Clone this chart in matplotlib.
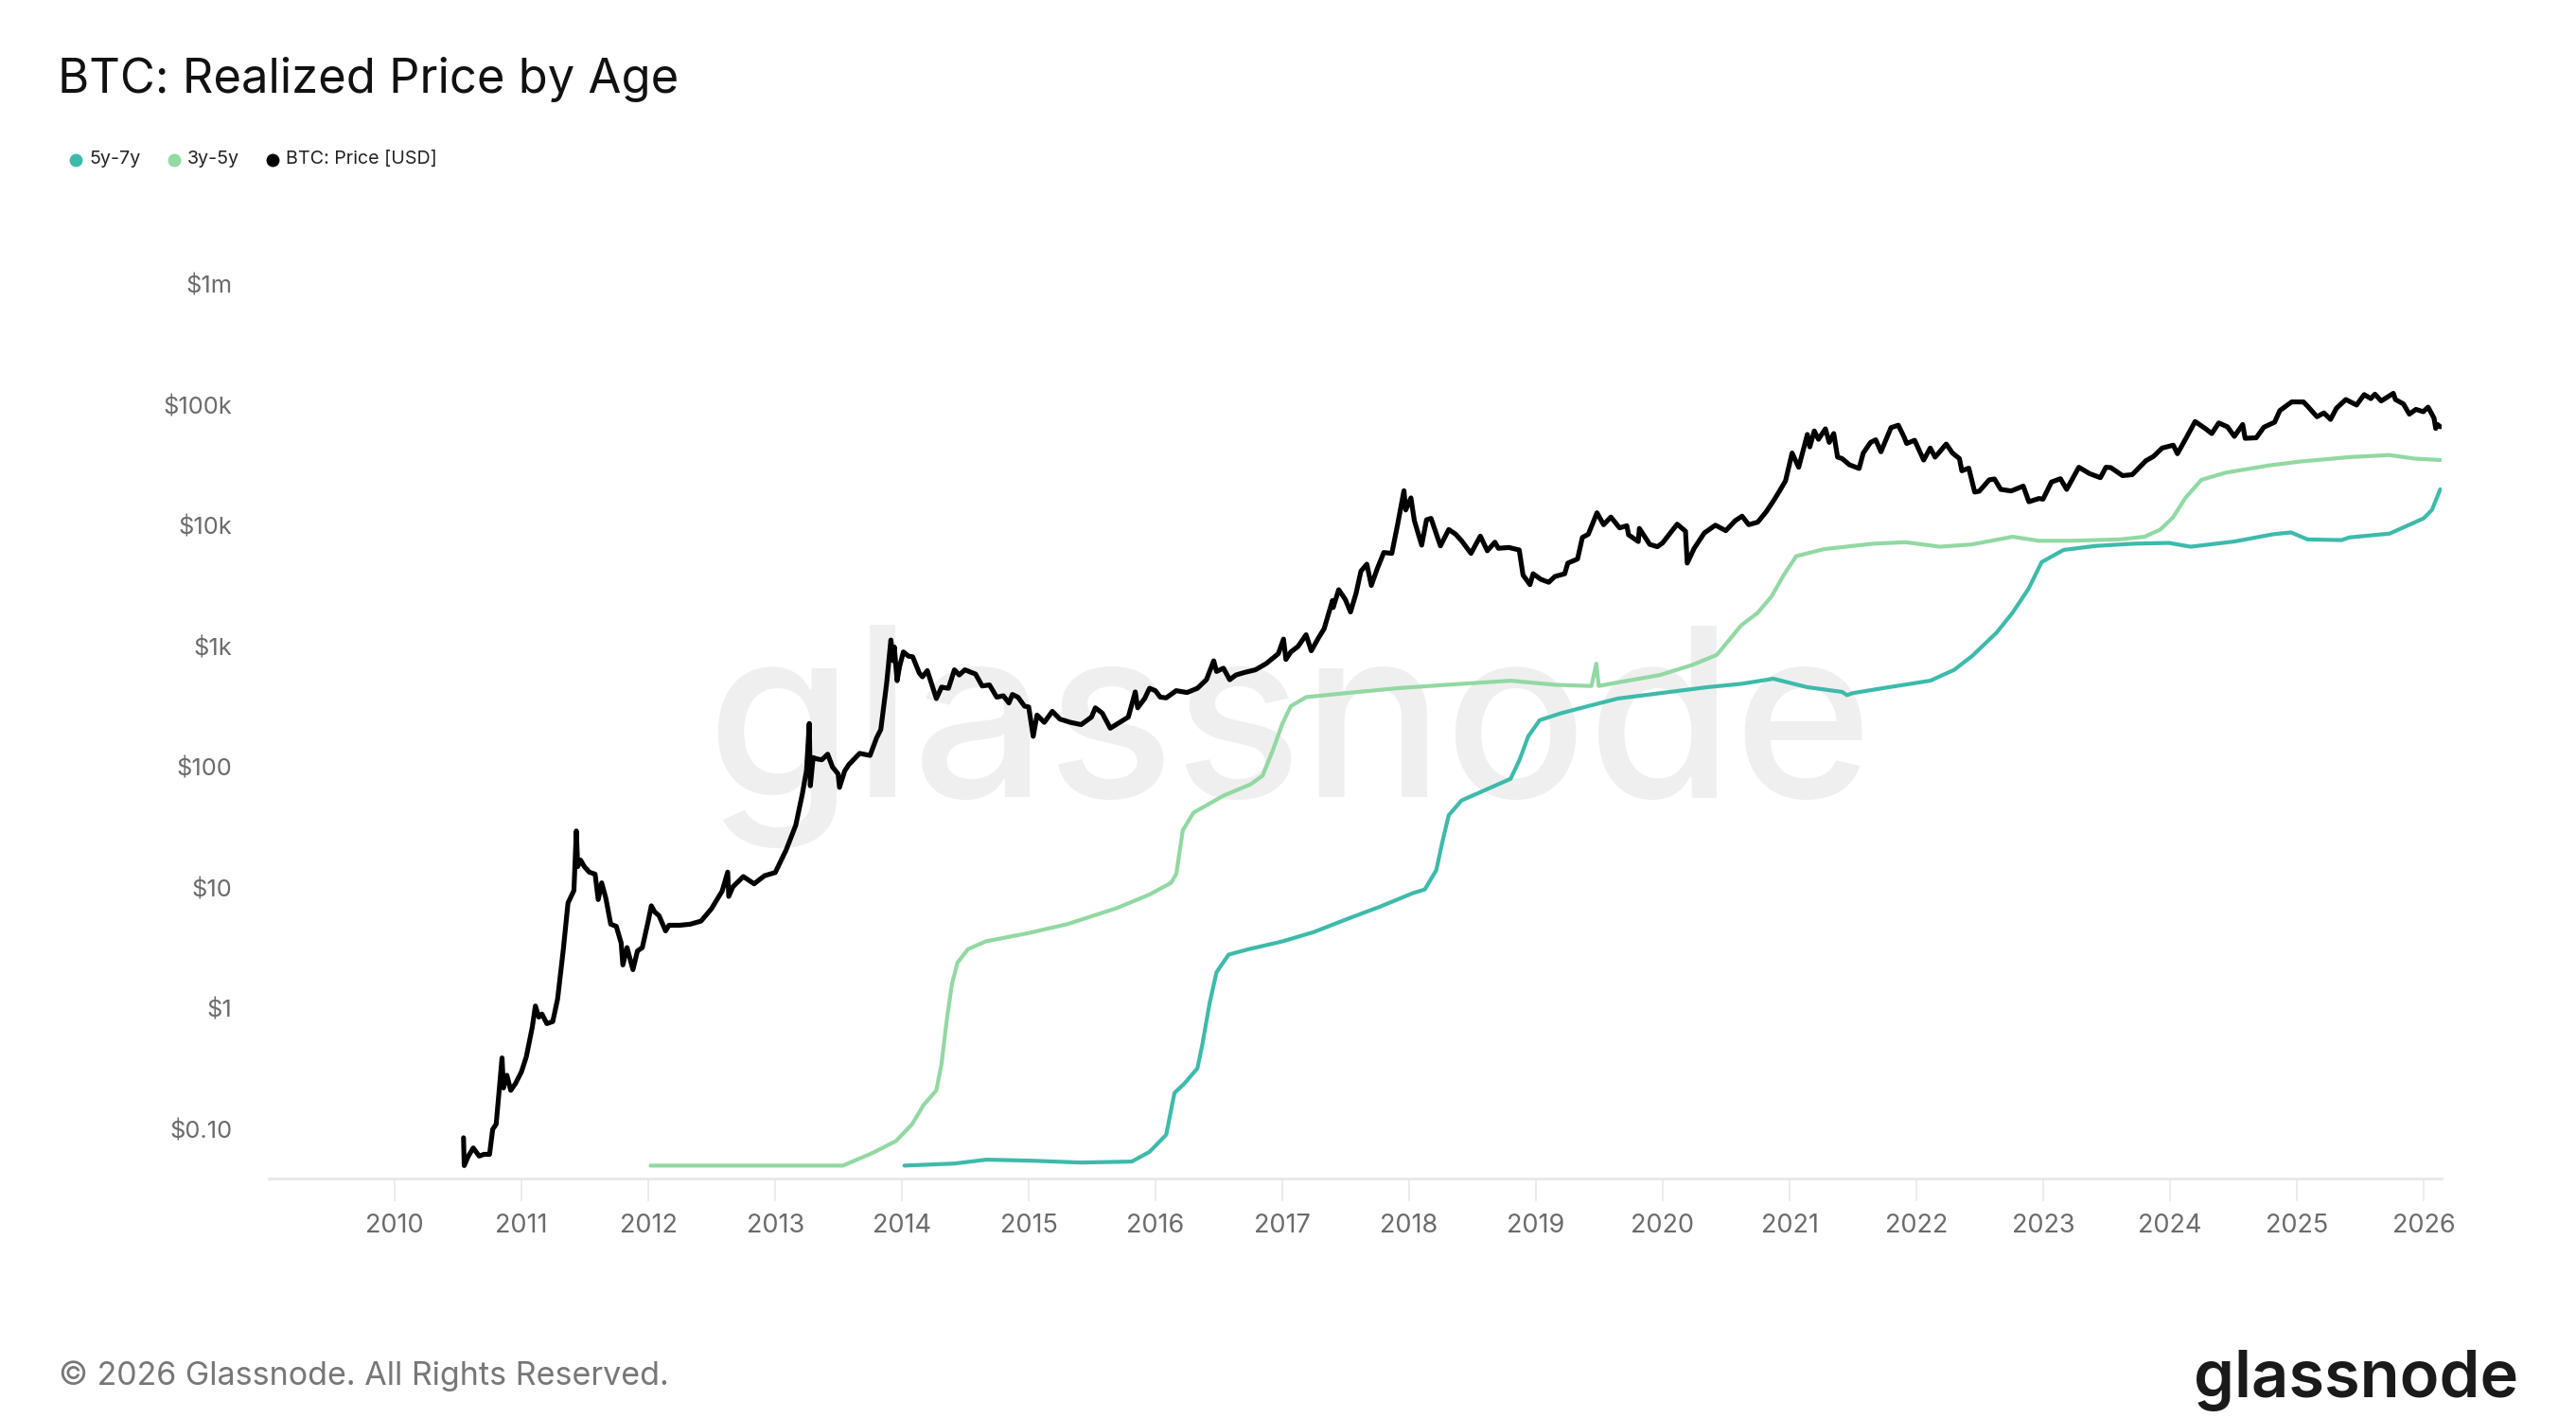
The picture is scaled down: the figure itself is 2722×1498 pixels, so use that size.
import matplotlib
matplotlib.use("Agg")
import matplotlib.pyplot as plt
from matplotlib.lines import Line2D
import pandas as pd
import datetime as dt

plt.rcParams['font.family'] = ['Inter', 'DejaVu Sans']

# ---------------- data ----------------
btc_dates = [
    "2010-07-18", "2010-07-20", "2010-08-01", "2010-08-15", "2010-09-01", "2010-09-15", "2010-10-01",
    "2010-10-10", "2010-10-20", "2010-11-06", "2010-11-10", "2010-11-20", "2010-12-01", "2010-12-15",
    "2011-01-01", "2011-01-15", "2011-02-01", "2011-02-10", "2011-02-20", "2011-03-01", "2011-03-15",
    "2011-04-01", "2011-04-15", "2011-05-01", "2011-05-15", "2011-06-01", "2011-06-08", "2011-06-12",
    "2011-06-20", "2011-07-01", "2011-07-15", "2011-08-01", "2011-08-10", "2011-08-20", "2011-09-01",
    "2011-09-15", "2011-10-01", "2011-10-15", "2011-10-20", "2011-11-01", "2011-11-18", "2011-12-01",
    "2011-12-15", "2012-01-01", "2012-01-10", "2012-01-20", "2012-02-01", "2012-02-20", "2012-03-01",
    "2012-04-01", "2012-05-01", "2012-06-01", "2012-07-01", "2012-08-01", "2012-08-17", "2012-08-20",
    "2012-09-01", "2012-10-01", "2012-11-01", "2012-12-01", "2013-01-01", "2013-02-01", "2013-03-01",
    "2013-03-20", "2013-04-01", "2013-04-09", "2013-04-12", "2013-04-20", "2013-05-01", "2013-05-15",
    "2013-06-01", "2013-06-15", "2013-07-01", "2013-07-05", "2013-07-20", "2013-08-01", "2013-09-01",
    "2013-10-01", "2013-10-20", "2013-11-01", "2013-11-18", "2013-11-30", "2013-12-07", "2013-12-10",
    "2013-12-18", "2013-12-25", "2014-01-05", "2014-01-20", "2014-02-01", "2014-02-20", "2014-03-01",
    "2014-03-15", "2014-04-10", "2014-04-25", "2014-05-15", "2014-06-01", "2014-06-15", "2014-07-01",
    "2014-08-01", "2014-08-20", "2014-09-10", "2014-10-01", "2014-10-20", "2014-11-05", "2014-11-15",
    "2014-12-01", "2014-12-20", "2015-01-01", "2015-01-14", "2015-01-25", "2015-02-15", "2015-03-10",
    "2015-04-01", "2015-05-01", "2015-06-01", "2015-07-01", "2015-07-12", "2015-08-01", "2015-08-24",
    "2015-09-15", "2015-10-15", "2015-11-04", "2015-11-11", "2015-12-01", "2015-12-15", "2016-01-01",
    "2016-01-15", "2016-02-01", "2016-03-01", "2016-04-01", "2016-05-01", "2016-05-27", "2016-06-17",
    "2016-06-25", "2016-07-15", "2016-08-02", "2016-08-20", "2016-09-15", "2016-10-15", "2016-11-15",
    "2016-12-20", "2017-01-04", "2017-01-11", "2017-01-25", "2017-02-15", "2017-03-10", "2017-03-25",
    "2017-04-15", "2017-05-01", "2017-05-25", "2017-05-27", "2017-06-12", "2017-07-01", "2017-07-16",
    "2017-08-01", "2017-08-15", "2017-09-01", "2017-09-14", "2017-10-01", "2017-10-20", "2017-11-12",
    "2017-11-28", "2017-12-17", "2017-12-22", "2018-01-06", "2018-01-16", "2018-02-06", "2018-02-20",
    "2018-03-05", "2018-04-01", "2018-04-25", "2018-05-15", "2018-06-01", "2018-06-28", "2018-07-25",
    "2018-08-14", "2018-09-05", "2018-09-15", "2018-10-15", "2018-11-14", "2018-11-25", "2018-12-15",
    "2018-12-24", "2019-01-15", "2019-02-07", "2019-02-25", "2019-03-25", "2019-04-03", "2019-05-01",
    "2019-05-15", "2019-06-01", "2019-06-26", "2019-07-15", "2019-08-05", "2019-08-30", "2019-09-20",
    "2019-09-25", "2019-10-23", "2019-10-26", "2019-11-25", "2019-12-17", "2020-01-01", "2020-02-12",
    "2020-03-07", "2020-03-12", "2020-04-01", "2020-04-30", "2020-06-01", "2020-07-01", "2020-07-28",
    "2020-08-17", "2020-09-05", "2020-10-01", "2020-10-25", "2020-11-15", "2020-12-01", "2020-12-20",
    "2021-01-08", "2021-01-27", "2021-02-21", "2021-02-28", "2021-03-13", "2021-03-25", "2021-04-14",
    "2021-04-25", "2021-05-08", "2021-05-19", "2021-06-01", "2021-06-22", "2021-07-20", "2021-08-01",
    "2021-08-22", "2021-09-06", "2021-09-21", "2021-10-20", "2021-11-10", "2021-11-27", "2021-12-04",
    "2021-12-27", "2022-01-22", "2022-02-10", "2022-02-24", "2022-03-28", "2022-04-15", "2022-05-05",
    "2022-05-12", "2022-06-01", "2022-06-18", "2022-07-01", "2022-07-30", "2022-08-14", "2022-09-01",
    "2022-10-01", "2022-11-05", "2022-11-21", "2022-12-20", "2023-01-01", "2023-01-25", "2023-02-20",
    "2023-03-10", "2023-04-14", "2023-05-15", "2023-06-15", "2023-07-01", "2023-07-15", "2023-08-18",
    "2023-09-15", "2023-10-24", "2023-11-15", "2023-12-10", "2024-01-11", "2024-01-23", "2024-02-15",
    "2024-03-14", "2024-04-15", "2024-05-01", "2024-05-21", "2024-06-15", "2024-07-05", "2024-07-29",
    "2024-08-05", "2024-09-06", "2024-09-28", "2024-10-29", "2024-11-13", "2024-12-17", "2025-01-20",
    "2025-02-02", "2025-02-28", "2025-03-20", "2025-04-08", "2025-04-25", "2025-05-22", "2025-06-22",
    "2025-07-14", "2025-08-02", "2025-08-14", "2025-09-01", "2025-10-06", "2025-10-12", "2025-11-04",
    "2025-11-21", "2025-12-10", "2025-12-31", "2026-01-14", "2026-01-31", "2026-02-05", "2026-02-10",
    "2026-02-18",
]
btc_price = [
    0.085, 0.05, 0.06, 0.07, 0.06, 0.062, 0.062,
    0.10, 0.11, 0.39, 0.22, 0.28, 0.21, 0.24,
    0.30, 0.40, 0.70, 1.05, 0.85, 0.90, 0.75,
    0.78, 1.2, 3.0, 7.5, 9.5, 29.6, 15,
    17, 15, 13.5, 13, 8, 11, 8.2,
    5, 4.8, 3.5, 2.3, 3.2, 2.1, 3,
    3.2, 5.3, 7.1, 6.3, 5.9, 4.4, 4.9,
    4.9, 5.0, 5.3, 6.7, 9.4, 13.5, 8.5,
    10.2, 12.4, 10.8, 12.6, 13.4, 20.5, 33,
    60, 94, 230, 70, 120, 117, 115,
    128, 100, 88, 68, 93, 105, 130,
    125, 175, 205, 500, 1130, 760, 990,
    520, 680, 900, 830, 820, 600, 560,
    630, 370, 460, 450, 640, 580, 640,
    590, 470, 480, 380, 390, 340, 400,
    380, 320, 315, 180, 270, 235, 290,
    250, 235, 225, 260, 310, 280, 210,
    230, 260, 420, 310, 370, 450, 430,
    380, 375, 430, 415, 450, 530, 760,
    620, 660, 530, 580, 610, 640, 720,
    870, 1150, 780, 900, 1000, 1250, 920,
    1180, 1400, 2400, 2100, 2950, 2450, 1930,
    2750, 4200, 4800, 3200, 4400, 6000, 5900,
    10000, 19500, 13500, 17000, 11000, 6900, 11200,
    11500, 6800, 9300, 8500, 7500, 5900, 8200,
    6200, 7300, 6500, 6600, 6300, 3900, 3250,
    4000, 3600, 3400, 3800, 4000, 4900, 5300,
    8000, 8500, 12800, 10200, 11800, 9600, 10000,
    8400, 7400, 9500, 7000, 6700, 7200, 10300,
    9000, 4900, 6500, 8700, 10100, 9100, 11000,
    12000, 10200, 10700, 13000, 16000, 19000, 23500,
    40000, 30500, 57000, 45000, 61000, 52000, 63500,
    49000, 58000, 37000, 36000, 32000, 29800, 40000,
    49000, 51500, 41000, 65000, 68000, 54000, 48000,
    51000, 35000, 44000, 37000, 47500, 40000, 36000,
    28500, 30000, 19000, 19300, 24000, 24400, 20000,
    19400, 21300, 15800, 16800, 16600, 23000, 24500,
    20000, 30500, 27000, 25000, 30500, 30300, 26000,
    26500, 34500, 37500, 44000, 46500, 39500, 52000,
    73000, 63000, 58000, 71000, 66000, 55000, 69000,
    53000, 53500, 65500, 72000, 90000, 106000, 106000,
    97000, 80000, 86000, 76000, 94000, 111000, 100000,
    122000, 113000, 123000, 108000, 125000, 111000, 102000,
    84000, 92000, 88000, 96000, 78000, 64000, 69000,
    66000,
]

rp_3y5y_dates = [
    "2012-01-08", "2012-07-01", "2013-01-01", "2013-07-15", "2013-10-05", "2013-12-15", "2014-01-30",
    "2014-03-05", "2014-04-10", "2014-04-25", "2014-05-10", "2014-05-25", "2014-06-10", "2014-07-10",
    "2014-08-30", "2014-12-28", "2015-04-22", "2015-09-12", "2015-12-15", "2016-02-15", "2016-03-01",
    "2016-03-20", "2016-04-20", "2016-07-15", "2016-10-01", "2016-11-05", "2016-12-05", "2017-01-01",
    "2017-01-25", "2017-03-10", "2017-07-01", "2017-11-25", "2018-04-15", "2018-10-20", "2019-03-01",
    "2019-06-10", "2019-06-24", "2019-07-01", "2019-08-20", "2019-12-25", "2020-03-25", "2020-06-05",
    "2020-08-15", "2020-10-01", "2020-11-10", "2020-12-15", "2021-01-20", "2021-04-10", "2021-08-30",
    "2021-12-01", "2022-03-10", "2022-06-10", "2022-10-05", "2022-12-20", "2023-03-20", "2023-08-10",
    "2023-10-20", "2023-12-05", "2024-01-10", "2024-02-15", "2024-04-01", "2024-06-10", "2024-10-10",
    "2025-01-10", "2025-06-01", "2025-09-25", "2025-12-05", "2026-02-18",
]
rp_3y5y = [
    0.05, 0.05, 0.05, 0.05, 0.063, 0.08, 0.11,
    0.16, 0.21, 0.35, 0.8, 1.6, 2.4, 3.1,
    3.6, 4.2, 5.0, 6.8, 8.8, 11, 13,
    30, 42, 58, 72, 85, 140, 230,
    320, 380, 410, 450, 480, 520, 480,
    470, 720, 470, 500, 580, 700, 850,
    1500, 1900, 2600, 3900, 5600, 6400, 7100,
    7300, 6700, 7000, 8100, 7500, 7500, 7700,
    8100, 9300, 11700, 17000, 24000, 27500, 31500,
    34000, 37000, 38500, 36000, 35000,
]

rp_5y7y_dates = [
    "2014-01-08", "2014-06-01", "2014-09-01", "2015-01-01", "2015-06-01", "2015-10-25", "2015-12-15",
    "2016-02-01", "2016-02-25", "2016-03-25", "2016-05-01", "2016-05-15", "2016-06-05", "2016-06-25",
    "2016-07-30", "2016-09-25", "2017-01-01", "2017-04-01", "2017-07-05", "2017-10-10", "2018-01-10",
    "2018-02-15", "2018-03-20", "2018-04-08", "2018-04-25", "2018-06-01", "2018-08-10", "2018-10-20",
    "2018-11-15", "2018-12-10", "2019-01-12", "2019-03-15", "2019-05-22", "2019-08-25", "2019-12-25",
    "2020-05-10", "2020-08-15", "2020-11-15", "2021-02-20", "2021-06-01", "2021-06-15", "2021-07-01",
    "2021-10-15", "2022-02-10", "2022-04-20", "2022-06-10", "2022-08-20", "2022-10-05", "2022-11-20",
    "2022-12-28", "2023-03-01", "2023-06-01", "2023-09-20", "2023-12-30", "2024-03-01", "2024-07-05",
    "2024-10-25", "2024-12-15", "2025-02-01", "2025-05-10", "2025-06-01", "2025-09-25", "2025-11-15",
    "2026-01-01", "2026-01-25", "2026-02-18",
]
rp_5y7y = [
    0.05, 0.052, 0.056, 0.055, 0.053, 0.054, 0.065,
    0.09, 0.2, 0.24, 0.32, 0.5, 1.1, 2.0,
    2.8, 3.1, 3.6, 4.3, 5.5, 7.0, 9.0,
    9.7, 14, 25, 40, 53, 65, 80,
    115, 180, 245, 280, 315, 370, 410,
    460, 490, 540, 460, 420, 395, 410,
    460, 520, 640, 830, 1300, 1900, 3000,
    5000, 6300, 6800, 7100, 7200, 6700, 7400,
    8500, 8800, 7700, 7600, 8000, 8600, 10000,
    11500, 13500, 20000,
]

years = list(range(2010, 2027))
ytick_values = [0.1, 1, 10, 100, 1e3, 1e4, 1e5, 1e6]
ytick_labels = ["$0.10", "$1", "$10", "$100", "$1k", "$10k", "$100k", "$1m"]
series_labels = ["5y-7y", "3y-5y", "BTC: Price [USD]"]

# ---------------- styles ----------------
C_57 = "#3dbaab"
C_35 = "#92d8a3"
C_BTC = "#000000"
GRID = "#e8e8e8"
TXT = "#6b6b6b"

W, H = 2722, 1498
fig = plt.figure(figsize=(W / 100, H / 100), dpi=100)
fig.patch.set_facecolor("white")

left, right = 284 / W, 2580 / W
bottom, top = 1 - 1245 / H, 1 - 220 / H
ax = fig.add_axes([left, bottom, right - left, top - bottom])
ax.set_facecolor("none")

# watermark (behind the lines)
ax.text(1363 / W, 1 - 842 / H, "glassnode", fontsize=180, color="#efefef",
        ha="center", va="baseline", zorder=0, fontweight="medium",
        transform=fig.transFigure)

ax.plot(pd.to_datetime(rp_5y7y_dates), rp_5y7y, color=C_57, lw=3.0, zorder=3,
        solid_joinstyle="round", solid_capstyle="round")
ax.plot(pd.to_datetime(rp_3y5y_dates), rp_3y5y, color=C_35, lw=3.0, zorder=3,
        solid_joinstyle="round", solid_capstyle="round")
ax.plot(pd.to_datetime(btc_dates), btc_price, color=C_BTC, lw=3.7, zorder=4,
        solid_joinstyle="round", solid_capstyle="round")

ax.set_yscale("log")
ax.set_ylim(10 ** -1.408, 10 ** 6.63)
ax.set_xlim(dt.datetime(2009, 1, 3), dt.datetime(2026, 2, 22))

ax.set_yticks(ytick_values)
ax.set_yticklabels(ytick_labels)
ax.yaxis.set_minor_locator(matplotlib.ticker.NullLocator())
ax.tick_params(axis="y", length=0, pad=28, labelsize=18.3, labelcolor=TXT)

ax.set_xticks([dt.datetime(y, 1, 1) for y in years])
ax.set_xticklabels([str(y) for y in years])
ax.tick_params(axis="x", length=17, width=1.2, color=GRID, pad=10, labelsize=19.5, labelcolor=TXT)

for s in ["top", "right", "left"]:
    ax.spines[s].set_visible(False)
ax.spines["bottom"].set_color(GRID)
ax.spines["bottom"].set_linewidth(2)

# title
fig.text(61 / W, 1 - 98 / H, "BTC: Realized Price by Age", fontsize=36.5, color="#111111",
         ha="left", va="baseline")

# legend
leg_colors = [C_57, C_35, C_BTC]
leg_x = [80, 184, 288]
for xm, c, lab in zip(leg_x, leg_colors, series_labels):
    fig.add_artist(Line2D([xm / W], [1 - 169 / H], marker="o", markersize=10, color=c,
                          markeredgewidth=0, linestyle="none", transform=fig.transFigure))
    fig.text((xm + 14) / W, 1 - 168 / H, lab, fontsize=14.2, color="#222222", ha="left", va="center")

# footer
fig.text(62 / W, 1 - 1463 / H, "\u00a9 2026 Glassnode. All Rights Reserved.", fontsize=24.5,
         color="#777777", ha="left", va="baseline")
fig.text(2661 / W, 1 - 1476 / H, "glassnode", fontsize=49.5, color="#1a1a1a",
         ha="right", va="baseline", fontweight="semibold")

fig.savefig("out.png", dpi=100, facecolor="white")
